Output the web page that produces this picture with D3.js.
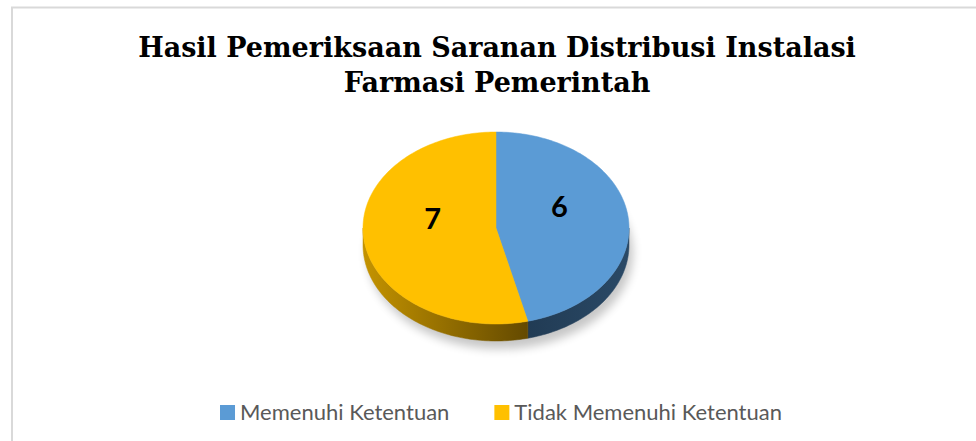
<!DOCTYPE html>
<html>
<head>
<meta charset="utf-8">
<script src="https://cdn.jsdelivr.net/npm/d3@7"></script>
<style>
  body { margin: 0; background: #fff; }
</style>
</head>
<body>
<script>
const WIDTH = 976;
const HEIGHT = 441;

const titleLines = ['Hasil Pemeriksaan Saranan Distribusi Instalasi', 'Farmasi Pemerintah'];
const categories = ['Memenuhi Ketentuan', 'Tidak Memenuhi Ketentuan'];
const values = [6, 7];
const topColors = ['#5B9BD5', '#FFC000'];

const CX = 496;
const CY = 228;
const RX = 133;
const RY = 96;
const DEPTH = 17;

const svg = d3.select('body')
  .append('svg')
  .attr('width', WIDTH)
  .attr('height', HEIGHT);

const defs = svg.append('defs');

// side shading, lighter at left, darker towards front/right
const gY = defs.append('linearGradient').attr('id', 'sideY')
  .attr('gradientUnits', 'userSpaceOnUse')
  .attr('x1', CX - RX).attr('x2', CX + 40).attr('y1', 0).attr('y2', 0);
gY.append('stop').attr('offset', '0%').attr('stop-color', '#c49300');
gY.append('stop').attr('offset', '100%').attr('stop-color', '#5f4600');

const gB = defs.append('linearGradient').attr('id', 'sideB')
  .attr('gradientUnits', 'userSpaceOnUse')
  .attr('x1', CX + 30).attr('x2', CX + RX).attr('y1', 0).attr('y2', 0);
gB.append('stop').attr('offset', '0%').attr('stop-color', '#213b54');
gB.append('stop').attr('offset', '100%').attr('stop-color', '#2a4966');

const sideFills = ['url(#sideB)', 'url(#sideY)'];

defs.append('filter').attr('id', 'blur')
  .attr('x', '-20%').attr('y', '-20%').attr('width', '140%').attr('height', '140%')
  .append('feGaussianBlur').attr('stdDeviation', 5);

// chart frame
svg.append('rect')
  .attr('x', 12).attr('y', 7.5)
  .attr('width', 1000).attr('height', 500)
  .attr('fill', 'none')
  .attr('stroke', '#d9d9d9')
  .attr('stroke-width', 2);

// title
svg.append('text')
  .attr('x', 497)
  .attr('text-anchor', 'middle')
  .attr('font-family', '"DejaVu Serif", serif')
  .attr('font-weight', 'bold')
  .attr('font-size', 27)
  .attr('fill', '#000')
  .selectAll('tspan')
  .data(titleLines)
  .enter()
  .append('tspan')
  .attr('x', 497)
  .attr('y', (d, i) => 57 + i * 35)
  .text(d => d);

const pie = d3.pie().sort(null).value(d => d);
const slices = pie(values).map((s, i) => Object.assign(s, { index: i }));

function pt(a, dy) {
  return [CX + RX * Math.sin(a), CY - RY * Math.cos(a) + (dy || 0)];
}

function arcPoints(a0, a1, dy) {
  const n = Math.max(2, Math.ceil(Math.abs(a1 - a0) / 0.02));
  return d3.range(n + 1).map(k => pt(a0 + (a1 - a0) * k / n, dy));
}

const line = d3.line();

// shadow
svg.append('ellipse')
  .attr('cx', CX + 4)
  .attr('cy', CY + DEPTH + 8)
  .attr('rx', RX)
  .attr('ry', RY)
  .attr('fill', '#000')
  .attr('opacity', 0.22)
  .attr('filter', 'url(#blur)');

// side walls (front half only)
const HALF = Math.PI / 2;
slices.forEach(s => {
  const a0 = Math.max(s.startAngle, HALF);
  const a1 = Math.min(s.endAngle, 3 * HALF);
  if (a1 <= a0) return;
  const pts = arcPoints(a0, a1, 0).concat(arcPoints(a1, a0, DEPTH));
  svg.append('path')
    .attr('d', line(pts) + 'Z')
    .attr('fill', sideFills[s.index])
    .attr('stroke', sideFills[s.index])
    .attr('stroke-width', 0.5);
});

// top faces
slices.forEach(s => {
  const pts = [[CX, CY]].concat(arcPoints(s.startAngle, s.endAngle, 0));
  svg.append('path')
    .attr('d', line(pts) + 'Z')
    .attr('fill', topColors[s.index])
    .attr('stroke', topColors[s.index])
    .attr('stroke-width', 0.5);
});

// data labels
svg.selectAll('text.lbl')
  .data(slices)
  .enter()
  .append('text')
  .attr('class', 'lbl')
  .attr('x', d => pt((d.startAngle + d.endAngle) / 2)[0] * 0.48 + CX * 0.52)
  .attr('y', d => (pt((d.startAngle + d.endAngle) / 2)[1] * 0.48 + CY * 0.52) - 5)
  .attr('text-anchor', 'middle')
  .attr('font-family', 'Lato, "Open Sans", sans-serif')
  .attr('font-weight', 'bold')
  .attr('font-size', 29)
  .attr('fill', '#000')
  .text(d => d.data);

// legend
const legend = svg.append('g');
const items = legend.selectAll('g')
  .data(categories)
  .enter()
  .append('g');

items.append('rect')
  .attr('width', 15).attr('height', 15)
  .attr('y', 405)
  .attr('fill', (d, i) => topColors[i]);

items.append('text')
  .attr('x', 20)
  .attr('y', 420)
  .attr('font-family', 'Lato, "Open Sans", sans-serif')
  .attr('font-size', 22)
  .attr('fill', '#595959')
  .text(d => d);

let xPos = 0;
const widths = [];
items.each(function () {
  const w = 20 + d3.select(this).select('text').node().getComputedTextLength();
  widths.push(w);
});
items.attr('transform', (d, i) => {
  const t = 'translate(' + xPos + ',0)';
  xPos += widths[i] + 45;
  return t;
});
const total = xPos - 45;
legend.attr('transform', 'translate(' + (501 - total / 2) + ',0)');
</script>
</body>
</html>
